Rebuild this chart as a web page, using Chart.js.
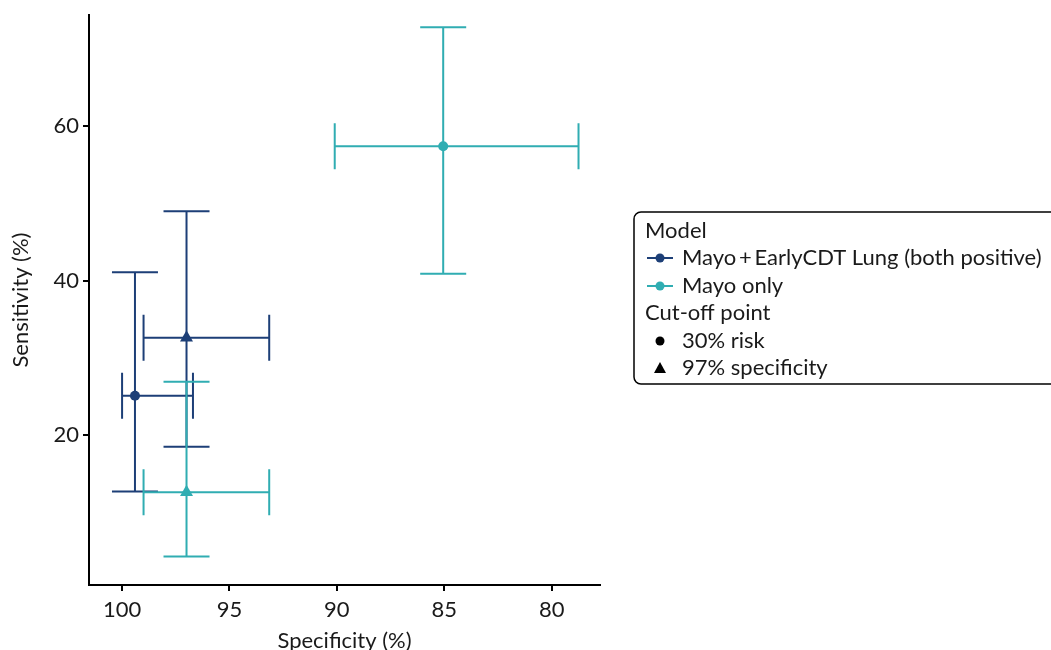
<!DOCTYPE html>
<html>
<head>
<meta charset="utf-8">
<script src="https://cdn.jsdelivr.net/npm/chart.js@4.4.1/dist/chart.umd.min.js"></script>
<style>
html, body { margin:0; padding:0; background:#fff; overflow:hidden; }
#wrap { position:relative; width:1051px; height:650px; }
</style>
</head>
<body>
<div id="wrap"><canvas id="chart"></canvas></div>
<script>
/* DATA */

const models = ["Mayo\u2009+\u2009EarlyCDT Lung (both positive)", "Mayo only"];
const cutoffs = ["30% risk", "97% specificity"];
const modelColors = ["#1d3f77", "#30adb2"];

// order of points in each series: 30% risk, 97% specificity
const bothSpec   = [99.4, 97.0];
const bothSpecLo = [96.7, 93.15];
const bothSpecHi = [100.0, 99.0];
const bothSens   = [25.1, 32.6];
const bothSensLo = [12.7, 18.5];
const bothSensHi = [41.1, 49.0];

const mayoSpec   = [85.05, 97.0];
const mayoSpecLo = [78.75, 93.15];
const mayoSpecHi = [90.1, 99.0];
const mayoSens   = [57.4, 12.6];
const mayoSensLo = [40.9, 4.3];
const mayoSensHi = [72.8, 26.9];

const specTicks = [100, 95, 90, 85, 80];
const sensTicks = [20, 40, 60];

/* BUILD POINTS */

function makePoints(spec, lo, hi, sens, sLo, sHi){
    return spec.map((v, i) => ({
        x: v, y: sens[i],
        xMin: lo[i], xMax: hi[i],
        yMin: sLo[i], yMax: sHi[i]
    }));
}

const FONT = "Lato, 'Open Sans', sans-serif";
const TXT = "#1a1a1a";
const FS = 22;

/* ERROR BARS */

const errorBars = {
    id: "errorBars",
    beforeDatasetsDraw(chart){
        const ctx = chart.ctx;
        const xs = chart.scales.x;
        const ys = chart.scales.y;
        const cap = 23;
        ctx.save();
        chart.data.datasets.forEach(ds => {
            ctx.strokeStyle = ds.borderColor;
            ctx.lineWidth = 2;
            ds.data.forEach(p => {
                const px = xs.getPixelForValue(p.x);
                const py = ys.getPixelForValue(p.y);
                const x1 = xs.getPixelForValue(p.xMin);
                const x2 = xs.getPixelForValue(p.xMax);
                const y1 = ys.getPixelForValue(p.yMin);
                const y2 = ys.getPixelForValue(p.yMax);
                ctx.beginPath();
                ctx.moveTo(x1, py); ctx.lineTo(x2, py);
                ctx.moveTo(x1, py - cap); ctx.lineTo(x1, py + cap);
                ctx.moveTo(x2, py - cap); ctx.lineTo(x2, py + cap);
                ctx.moveTo(px, y1); ctx.lineTo(px, y2);
                ctx.moveTo(px - cap, y1); ctx.lineTo(px + cap, y1);
                ctx.moveTo(px - cap, y2); ctx.lineTo(px + cap, y2);
                ctx.stroke();
            });
        });
        ctx.restore();
    }
};

/* LEGEND */

const sideLegend = {
    id: "sideLegend",
    afterDraw(chart){
        const ctx = chart.ctx;
        ctx.save();
        const bx = 634, by = 212, bw = 440, bh = 172, r = 7;
        ctx.strokeStyle = "#000";
        ctx.lineWidth = 1.5;
        ctx.beginPath();
        ctx.moveTo(bx + r, by);
        ctx.lineTo(bx + bw, by);
        ctx.moveTo(bx + bw, by + bh);
        ctx.lineTo(bx + r, by + bh);
        ctx.arcTo(bx, by + bh, bx, by + bh - r, r);
        ctx.lineTo(bx, by + r);
        ctx.arcTo(bx, by, bx + r, by, r);
        ctx.stroke();

        ctx.font = FS + "px " + FONT;
        ctx.fillStyle = TXT;
        ctx.textBaseline = "middle";
        ctx.textAlign = "left";

        const rows = [231, 258, 286, 313, 341, 368];
        ctx.fillText("Model", 645, rows[0]);
        models.forEach((m, i) => {
            const yy = rows[1 + i];
            ctx.strokeStyle = modelColors[i];
            ctx.fillStyle = modelColors[i];
            ctx.lineWidth = 2;
            ctx.beginPath();
            ctx.moveTo(647, yy); ctx.lineTo(673, yy);
            ctx.stroke();
            ctx.beginPath();
            ctx.arc(660, yy, 4.5, 0, Math.PI * 2);
            ctx.fill();
            ctx.fillStyle = TXT;
            ctx.fillText(m, 682, yy);
        });
        ctx.fillText("Cut-off point", 645, rows[3]);

        ctx.fillStyle = "#000";
        ctx.beginPath();
        ctx.arc(660, rows[4], 4.5, 0, Math.PI * 2);
        ctx.fill();
        ctx.beginPath();
        ctx.moveTo(660, rows[5] - 6);
        ctx.lineTo(666, rows[5] + 5);
        ctx.lineTo(654, rows[5] + 5);
        ctx.closePath();
        ctx.fill();
        ctx.fillStyle = TXT;
        ctx.fillText(cutoffs[0], 682, rows[4]);
        ctx.fillText(cutoffs[1], 682, rows[5]);
        ctx.restore();
    }
};

/* CHART */

const seriesStyle = {
    pointStyle: ["circle", "triangle"],
    pointRadius: [5, 7.5],
    pointHoverRadius: [5, 7.5],
    pointBorderWidth: 0,
    showLine: false
};

new Chart(document.getElementById("chart"), {
    type: "scatter",
    data: {
        datasets: [
            Object.assign({
                label: models[0],
                data: makePoints(bothSpec, bothSpecLo, bothSpecHi, bothSens, bothSensLo, bothSensHi),
                borderColor: modelColors[0],
                backgroundColor: modelColors[0]
            }, seriesStyle),
            Object.assign({
                label: models[1],
                data: makePoints(mayoSpec, mayoSpecLo, mayoSpecHi, mayoSens, mayoSensLo, mayoSensHi),
                borderColor: modelColors[1],
                backgroundColor: modelColors[1]
            }, seriesStyle)
        ]
    },
    options: {
        responsive: true,
        maintainAspectRatio: false,
        animation: false,
        layout: { padding: { left: 0, top: 15, right: 451, bottom: 0 } },
        plugins: {
            legend: { display: false },
            tooltip: { enabled: false }
        },
        scales: {
            x: {
                type: "linear",
                reverse: true,
                min: 77.75,
                max: 101.54,
                afterBuildTicks: axis => { axis.ticks = specTicks.map(v => ({ value: v })); },
                afterFit: axis => { axis.height = 65; axis.paddingLeft = 0; axis.paddingRight = 0; },
                border: { display: true, color: "#000", width: 2 },
                grid: { drawOnChartArea: false, drawTicks: true, tickLength: 6, color: "#000", lineWidth: 2 },
                ticks: { color: TXT, font: { family: FONT, size: FS }, padding: 6 },
                title: { display: true, text: "Specificity (%)", color: TXT, font: { family: FONT, size: FS }, padding: { top: 3, bottom: -4 } }
            },
            y: {
                type: "linear",
                min: 0.6,
                max: 74.4,
                afterBuildTicks: axis => { axis.ticks = sensTicks.map(v => ({ value: v })); },
                afterFit: axis => { axis.width = 89; axis.paddingTop = 0; axis.paddingBottom = 0; },
                border: { display: true, color: "#000", width: 2 },
                grid: { drawOnChartArea: false, drawTicks: true, tickLength: 6, color: "#000", lineWidth: 2 },
                ticks: { color: TXT, font: { family: FONT, size: FS }, padding: 4 },
                title: { display: true, text: "Sensitivity (%)", color: TXT, font: { family: FONT, size: FS }, padding: { top: 8, bottom: 4 } }
            }
        }
    },
    plugins: [errorBars, sideLegend]
});
</script>
</body>
</html>
